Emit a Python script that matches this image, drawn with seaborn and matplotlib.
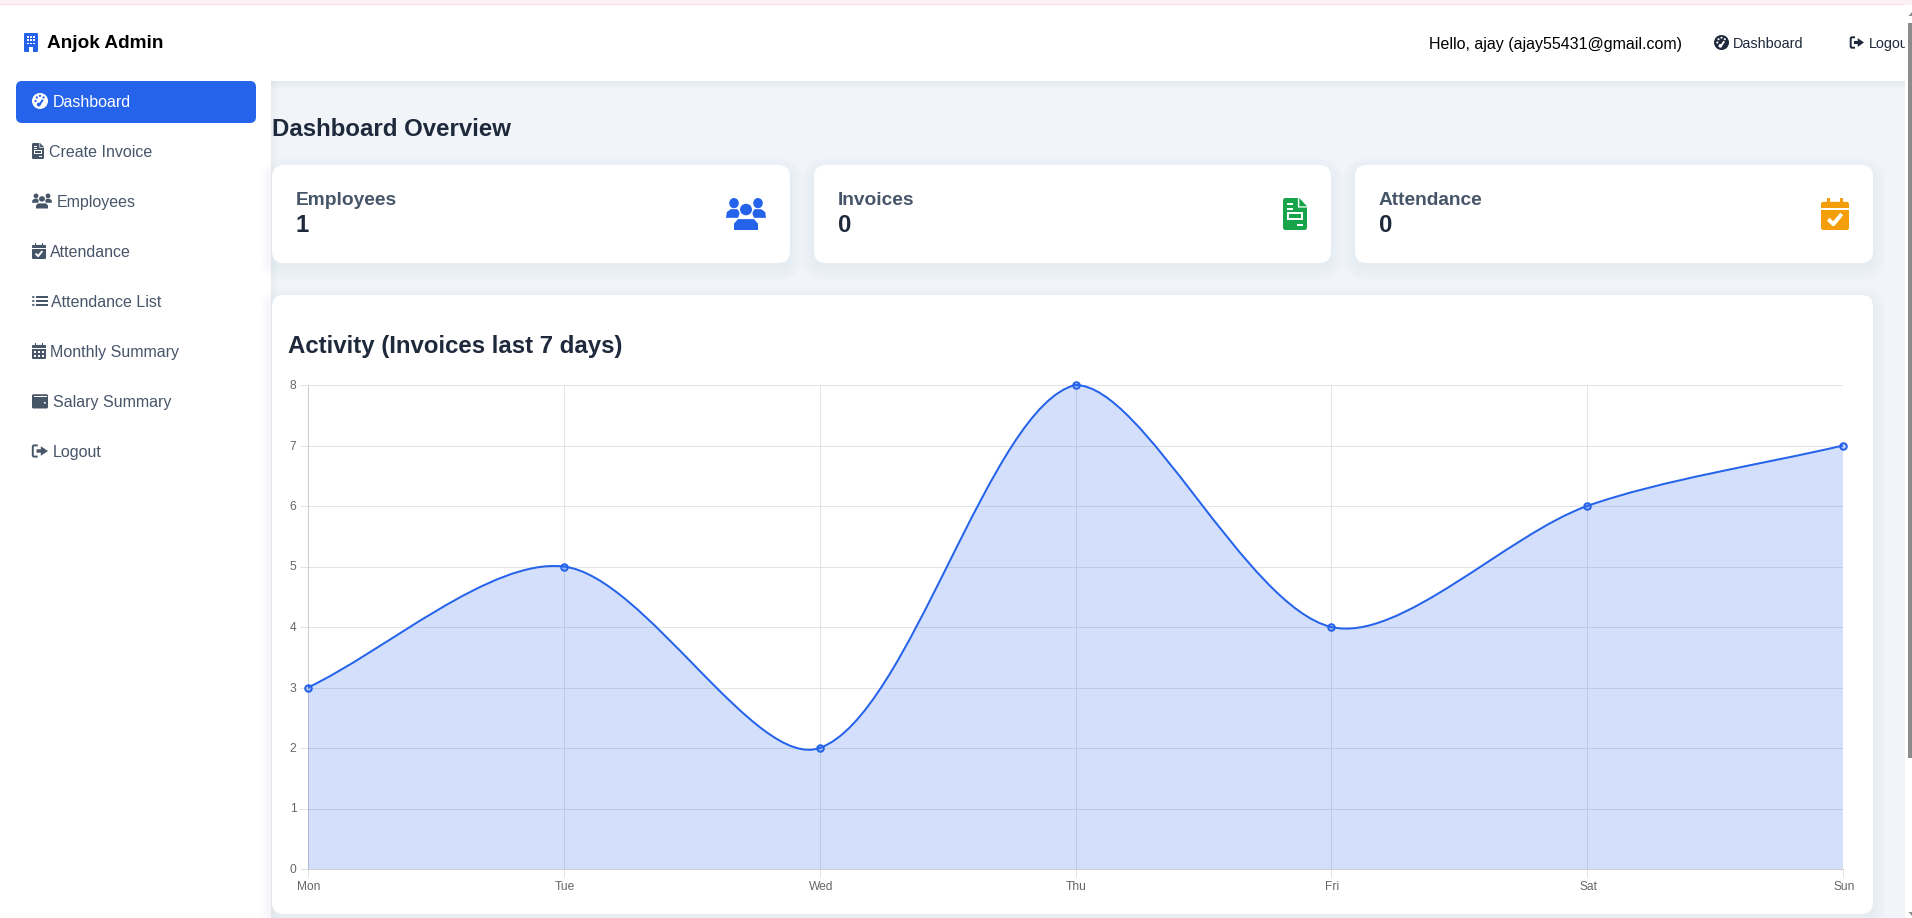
"""Pantalla del panel Anjok Admin con el grafico de actividad semanal."""

import matplotlib
matplotlib.use("Agg")
import matplotlib.pyplot as plt
import numpy as np
import seaborn as sns
from matplotlib.patches import Ellipse, FancyBboxPatch, PathPatch, Polygon, Rectangle
from matplotlib.path import Path
from matplotlib.transforms import ScaledTranslation

W, H = 1912, 918

# datos del grafico
days = ["Mon", "Tue", "Wed", "Thu", "Fri", "Sat", "Sun"]
invoices = [3, 5, 2, 8, 4, 6, 7]
y_ticks = [0, 1, 2, 3, 4, 5, 6, 7, 8]

# textos de la pantalla
brand = "Anjok Admin"
greeting = "Hello, ajay (ajay55431@gmail.com)"
page_title = "Dashboard Overview"
chart_title = "Activity (Invoices last 7 days)"
menu_labels = ["Dashboard", "Create Invoice", "Employees", "Attendance",
               "Attendance List", "Monthly Summary", "Salary Summary", "Logout"]
menu_text_x = [53, 49, 57, 50, 51.5, 50.5, 53, 53]
menu_icons = ["gauge", "doc", "people", "calcheck", "list", "calgrid", "wallet", "logout"]
card_labels = ["Employees", "Invoices", "Attendance"]
card_values = ["1", "0", "0"]

BLUE = "#2563eb"
GREEN = "#16a34a"
AMBER = "#f59e0b"
SLATE = "#475569"
DARK = "#1e293b"
BG = "#f1f4f9"

sns.set_theme(style="whitegrid")
plt.rcParams["font.family"] = ["Liberation Sans", "DejaVu Sans"]


def px(size):
    return size * 0.72


def rounded(ax, x0, y0, x1, y1, r, color, z=1, alpha=1.0):
    ax.add_patch(FancyBboxPatch((x0 + r, y0 + r), x1 - x0 - 2 * r, y1 - y0 - 2 * r,
                                boxstyle=f"round,pad={r},rounding_size={r}",
                                fc=color, ec="none", zorder=z, alpha=alpha))


def shadow(ax, x0, y0, x1, y1, r, z=1):
    for grow in range(12, 0, -2):
        rounded(ax, x0 - grow, y0 - grow + 5, x1 + grow, y1 + grow + 5, r + grow,
                "#64748b", z=z, alpha=0.007)


def draw_icon(ax, kind, x0, y0, x1, y1, color, hole="white", z=5):
    """Dibuja un icono simple dentro de la caja dada, en coordenadas 0..1."""
    w, h = x1 - x0, y1 - y0

    def X(u):
        return x0 + u * w

    def Y(v):
        return y0 + v * h

    def box(u0, v0, u1, v1, c=color, r=0.0):
        if r:
            rounded(ax, X(u0), Y(v0), X(u1), Y(v1), r, c, z=z)
        else:
            ax.add_patch(Rectangle((X(u0), Y(v0)), (u1 - u0) * w, (v1 - v0) * h,
                                   fc=c, ec="none", zorder=z))

    def blob(u, v, ru, rv, c=color):
        ax.add_patch(Ellipse((X(u), Y(v)), 2 * ru * w, 2 * rv * h, fc=c, ec="none", zorder=z))

    def poly(points, c=color):
        ax.add_patch(Polygon([(X(u), Y(v)) for u, v in points], closed=True,
                             fc=c, ec="none", zorder=z))

    def stroke(points, c=hole, lw=1.2):
        ax.plot([X(u) for u, v in points], [Y(v) for u, v in points], color=c, lw=lw,
                solid_capstyle="butt", zorder=z + 0.5)

    if kind == "gauge":
        blob(0.5, 0.5, 0.5, 0.5)
        for u, v in [(0.22, 0.5), (0.3, 0.28), (0.5, 0.18), (0.72, 0.28)]:
            blob(u, v, 0.07, 0.07, hole)
        stroke([(0.42, 0.8), (0.68, 0.42)], lw=1.4)
        blob(0.42, 0.72, 0.12, 0.12, hole)
    elif kind == "doc":
        poly([(0, 0.06), (0.06, 0), (0.62, 0), (1, 0.3), (1, 0.94), (0.94, 1), (0.06, 1), (0, 0.94)])
        poly([(0.62, 0), (1, 0.3), (0.62, 0.3)], hole)
        poly([(0.68, 0.0), (1, 0.26), (0.68, 0.26)])
        box(0.16, 0.16, 0.42, 0.22, hole)
        box(0.16, 0.3, 0.42, 0.36, hole)
        box(0.16, 0.44, 0.84, 0.7, hole)
        box(0.24, 0.5, 0.76, 0.64)
        box(0.58, 0.82, 0.84, 0.88, hole)
    elif kind == "people":
        blob(0.2, 0.16, 0.12, 0.16)
        blob(0.8, 0.16, 0.12, 0.16)
        poly([(0, 0.62), (0.02, 0.44), (0.12, 0.35), (0.28, 0.35), (0.36, 0.42), (0.3, 0.62)])
        poly([(1, 0.62), (0.98, 0.44), (0.88, 0.35), (0.72, 0.35), (0.64, 0.42), (0.7, 0.62)])
        blob(0.5, 0.36, 0.19, 0.21, hole)
        blob(0.5, 0.36, 0.15, 0.18)
        poly([(0.2, 1), (0.2, 0.8), (0.3, 0.66), (0.7, 0.66), (0.8, 0.8), (0.8, 1)])
    elif kind in ("calcheck", "calgrid"):
        box(0, 0.12, 1, 1, r=max(1.0, 0.08 * w))
        box(0.2, 0, 0.32, 0.2)
        box(0.68, 0, 0.8, 0.2)
        box(0, 0.32, 1, 0.37, hole)
        if kind == "calcheck":
            stroke([(0.26, 0.66), (0.44, 0.82), (0.74, 0.5)], lw=max(1.0, 0.1 * w))
        else:
            for u in (0.12, 0.42, 0.72):
                for v in (0.47, 0.72):
                    box(u, v, u + 0.16, v + 0.14, hole)
    elif kind == "list":
        for v in (0.1, 0.43, 0.76):
            blob(0.08, v + 0.07, 0.08, 0.08)
            box(0.28, v, 1, v + 0.15)
    elif kind == "wallet":
        box(0, 0.05, 1, 1, r=1.5)
        box(0.1, 0.18, 0.92, 0.25, hole)
        blob(0.8, 0.62, 0.06, 0.06, hole)
    elif kind == "logout":
        stroke([(0.36, 0.1), (0.1, 0.1), (0.05, 0.16), (0.05, 0.84), (0.1, 0.9), (0.36, 0.9)],
               c=color, lw=1.4)
        poly([(0.28, 0.38), (0.55, 0.38), (0.55, 0.16), (1, 0.5), (0.55, 0.84), (0.55, 0.62), (0.28, 0.62)])
    elif kind == "building":
        box(0, 0, 1, 1, r=1.2)
        for u in (0.2, 0.43, 0.66):
            for v in (0.16, 0.33, 0.5):
                box(u, v, u + 0.14, v + 0.1, hole)
        box(0.38, 0.74, 0.62, 1, hole)


def chart_path(xs, ys, sx, sy, tension=0.3):
    """Curva bezier que pasa por los valores, con el mismo suavizado que Chart.js."""
    pts = np.column_stack([xs, ys]).astype(float)
    scale = np.array([sx, sy])
    screen = pts * scale
    n = len(screen)
    low, high = screen.min(axis=0) * 0, np.array([xs[-1] * sx, max(ys) * sy])
    prev_cp, next_cp = screen.copy(), screen.copy()
    for i in range(n):
        p0 = screen[max(i - 1, 0)]
        p1 = screen[i]
        p2 = screen[min(i + 1, n - 1)]
        d01 = np.linalg.norm(p1 - p0)
        d12 = np.linalg.norm(p2 - p1)
        total = d01 + d12
        prev_cp[i] = p1 - tension * d01 / total * (p2 - p0)
        next_cp[i] = p1 + tension * d12 / total * (p2 - p0)
    prev_cp = np.clip(prev_cp, low, high) / scale
    next_cp = np.clip(next_cp, low, high) / scale
    verts = [tuple(pts[0])]
    codes = [Path.MOVETO]
    for i in range(n - 1):
        verts += [tuple(next_cp[i]), tuple(prev_cp[i + 1]), tuple(pts[i + 1])]
        codes += [Path.CURVE4] * 3
    return verts, codes


fig = plt.figure(figsize=(W / 100, H / 100), dpi=100, facecolor=BG)

ui = fig.add_axes([0, 0, 1, 1], zorder=0)
ui.set_xlim(0, W)
ui.set_ylim(H, 0)
ui.axis("off")

# --- Marco de la pagina ---
ui.add_patch(Rectangle((0, 0), W, 4, fc="#fdf1f5", ec="none", zorder=1))
ui.add_patch(Rectangle((0, 4), W, 1, fc="#f3e0e8", ec="none", zorder=1))
for grow in range(8, 0, -1):
    ui.add_patch(Rectangle((0, 5), W, 76 + grow, fc="#64748b", ec="none", alpha=0.007, zorder=1))
    ui.add_patch(Rectangle((0, 5), 271 + grow, H, fc="#64748b", ec="none", alpha=0.003, zorder=1))
ui.add_patch(Rectangle((0, 81), 271, H, fc="white", ec="none", zorder=2))
ui.add_patch(Rectangle((0, 5), W, 76, fc="white", ec="none", zorder=2))

draw_icon(ui, "building", 24, 33, 38, 52, BLUE)
ui.text(47, 44, brand, fontsize=px(19), fontweight="bold", color="black", va="center", zorder=5)
ui.text(1429, 44, greeting, fontsize=px(16), color="black", va="center", zorder=5)
draw_icon(ui, "gauge", 1714, 35, 1729, 50, DARK)
ui.text(1733, 44, "Dashboard", fontsize=px(14.4), color=DARK, va="center", zorder=5)
draw_icon(ui, "logout", 1850, 36, 1864, 49, DARK)
ui.text(1869, 44, "Logout", fontsize=px(14.4), color=DARK, va="center", zorder=5)

# --- Menu lateral ---
rounded(ui, 16, 81, 256, 123, 6, BLUE, z=3)
menu_icon_w = [16, 12, 20, 14, 16, 14, 16, 16]
menu_icon_h = [16, 16, 15, 16, 12, 16, 15, 14]
for i, label in enumerate(menu_labels):
    cy = 102 + 50 * i
    color = "white" if i == 0 else SLATE
    hole = BLUE if i == 0 else "white"
    draw_icon(ui, menu_icons[i], 32, cy - 1 - menu_icon_h[i] / 2, 32 + menu_icon_w[i],
              cy - 1 + menu_icon_h[i] / 2, color, hole)
    ui.text(menu_text_x[i], cy + 0.5, label, fontsize=px(16), color=color, va="center", zorder=5)

ui.text(272, 129, page_title, fontsize=px(24), fontweight="bold", color=DARK, va="center", zorder=5)

# --- Tarjetas de resumen ---
card_x = [(272, 790), (814, 1331), (1355, 1873)]
card_text_x = [296, 838, 1379]
card_icon = [("people", 726, 766, BLUE), ("doc", 1283, 1307, GREEN), ("calcheck", 1821, 1849, AMBER)]
for (x0, x1), tx, label, value, (kind, ix0, ix1, icolor) in zip(card_x, card_text_x, card_labels,
                                                               card_values, card_icon):
    shadow(ui, x0, 165, x1, 263, 12, z=3)
    rounded(ui, x0, 165, x1, 263, 12, "white", z=4)
    ui.text(tx, 200.5, label, fontsize=px(19.2), fontweight="bold", color=SLATE, va="center", zorder=5)
    ui.text(tx, 226, value, fontsize=px(24), fontweight="bold", color=DARK, va="center", zorder=5)
    draw_icon(ui, kind, ix0, 198, ix1, 230, icolor)

# --- Tarjeta del grafico ---
shadow(ui, 272, 295, 1873, 914, 12, z=3)
rounded(ui, 272, 295, 1873, 914, 12, "white", z=4)
ui.text(288, 347, chart_title, fontsize=px(24), fontweight="bold", color=DARK, va="center", zorder=5)

ax = fig.add_axes([308 / W, 1 - 869 / H, (1843 - 308) / W, (869 - 385) / H], zorder=1)
ax.patch.set_visible(False)
day_pos = np.arange(len(days))
ax.set_xlim(0, len(days) - 1)
ax.set_ylim(0, max(y_ticks))

verts, codes = chart_path(day_pos, invoices, (1843 - 308) / 6, (869 - 385) / 8)
fill_verts = verts + [(day_pos[-1], 0), (day_pos[0], 0), verts[0]]
fill_codes = codes + [Path.LINETO, Path.LINETO, Path.CLOSEPOLY]
ax.add_patch(PathPatch(Path(fill_verts, fill_codes), fc=BLUE, ec="none", alpha=0.2, zorder=3))
ax.add_patch(PathPatch(Path(verts, codes), fc="none", ec=BLUE, lw=px(2), zorder=4, clip_on=False))
sns.scatterplot(x=day_pos, y=invoices, ax=ax, s=22, color=(0.145, 0.388, 0.922, 0.25),
                edgecolor=BLUE, linewidth=px(2), zorder=5, clip_on=False, legend=False)

ax.set_xticks(day_pos, days)
ax.set_yticks(y_ticks)
ax.grid(True, color="#e4e4e4", lw=px(1))
ax.set_axisbelow(True)
ax.tick_params(axis="both", length=px(8), width=px(1), color="#e4e4e4", labelcolor="#666666",
               labelsize=px(12), pad=px(3.5), bottom=True, left=True)
for name, spine in ax.spines.items():
    spine.set_visible(name in ("left", "bottom"))
    spine.set_color("#cdcdcd")
    spine.set_linewidth(px(1))

# Ajuste fino de las etiquetas de los ejes
for label in ax.get_xticklabels():
    label.set_transform(label.get_transform() + ScaledTranslation(1 / 100, 0, fig.dpi_scale_trans))
for label in ax.get_yticklabels():
    label.set_transform(label.get_transform() + ScaledTranslation(0, 0.5 / 100, fig.dpi_scale_trans))

# --- Barra de desplazamiento ---
ui.add_patch(Rectangle((1905, 5), 7, H, fc="white", ec="none", zorder=8))
ui.add_patch(Rectangle((1905, 0), 7, 5, fc="#fdf1f5", ec="none", zorder=8))
ui.add_patch(Rectangle((1908, 23), 4, 735, fc="#8c8c8c", ec="none", zorder=9))
ui.add_patch(Polygon([(1908.5, 16), (1912, 12), (1912, 16)], fc="#8c8c8c", ec="none", zorder=9))
ui.add_patch(Polygon([(1908.5, 912), (1912, 916), (1912, 912)], fc="#8c8c8c", ec="none", zorder=9))

fig.savefig("out.png", dpi=100, facecolor=fig.get_facecolor())
plt.close(fig)
